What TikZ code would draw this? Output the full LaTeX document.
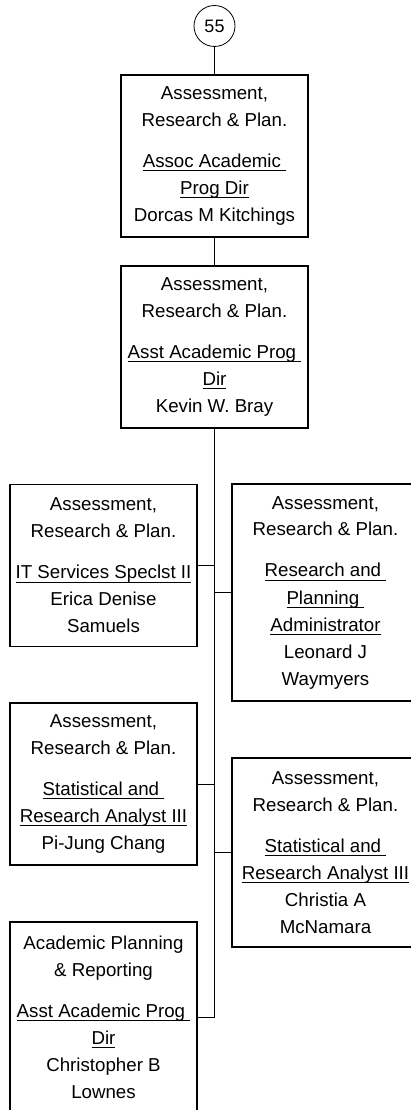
\documentclass[tikz,border=0pt]{standalone}
\usepackage{fontspec}
\setmainfont{Liberation Sans}
\usepackage{xcolor}
\usetikzlibrary{positioning}
\newcommand{\jobtitle}[1]{\underline{\raisebox{0pt}[\height][1.6pt]{#1}}}

\begin{document}
\begin{tikzpicture}[
    x=1pt, y=-1pt,
    orgbox/.style={
      rectangle, draw, line width=1.4pt,
      minimum width=187pt, minimum height=162pt,
      inner sep=2pt, align=center,
      font=\fontsize{18.7}{27}\selectfont
    },
    link/.style={draw, line width=1pt},
    pagenum/.style={
      circle, draw, line width=0.8pt, minimum size=41pt, inner sep=0pt,
      font=\fontsize{18}{20}\selectfont
    }
  ]
    \useasboundingbox (0,0) rectangle (411,1110);
    \clip (0,0) rectangle (411,1110);

    %% Top of the chart
    \node[pagenum] (page) at (214.5,26) {55};
    \node[orgbox] (assoc) at (214.5,156) {Assessment,\\Research \& Plan.\\[14pt]
      \jobtitle{Assoc Academic\ }\\\jobtitle{Prog Dir}\\Dorcas M Kitchings};
    \node[orgbox] (asst) at (214.5,347) {Assessment,\\Research \& Plan.\\[14pt]
      \jobtitle{Asst Academic Prog\ }\\\jobtitle{Dir}\\Kevin W. Bray};

    %% Left column
    \node[orgbox] (itspec) at (103.5,565.5) {Assessment,\\Research \& Plan.\\[14pt]
      \jobtitle{IT Services Speclst II}\\Erica Denise\\Samuels};
    \node[orgbox] (statleft) at (103.5,784) {Assessment,\\Research \& Plan.\\[14pt]
      \jobtitle{Statistical and\ }\\\jobtitle{Research Analyst III}\\Pi-Jung Chang};
    \node[orgbox, minimum height=190pt] (acplan) at (103.5,1017) {Academic Planning\\\& Reporting\\[14pt]
      \jobtitle{Asst Academic Prog\ }\\\jobtitle{Dir}\\Christopher B\\Lownes};

    %% Right column
    \node[orgbox, minimum height=217pt] (resplan) at (325.5,592.5) {Assessment,\\Research \& Plan.\\[14pt]
      \jobtitle{Research and\ }\\\jobtitle{Planning\ }\\\jobtitle{Administrator}\\Leonard J\\Waymyers};
    \node[orgbox, minimum height=189pt] (statright) at (325.5,852.5) {Assessment,\\Research \& Plan.\\[14pt]
      \jobtitle{Statistical and\ }\\\jobtitle{Research Analyst III}\\Christia A\\McNamara};

    %% Draw connectors
    \draw[link] (page.south) -- (assoc.north);
    \draw[link] (assoc.south) -- (asst.north);
    \draw[link] (asst.south) |- (itspec.east);
    \draw[link] (asst.south) |- (resplan.west);
    \draw[link] (asst.south) |- (statleft.east);
    \draw[link] (asst.south) |- (statright.west);
    \draw[link] (asst.south) |- (acplan.east);
  \end{tikzpicture}
\end{document}
